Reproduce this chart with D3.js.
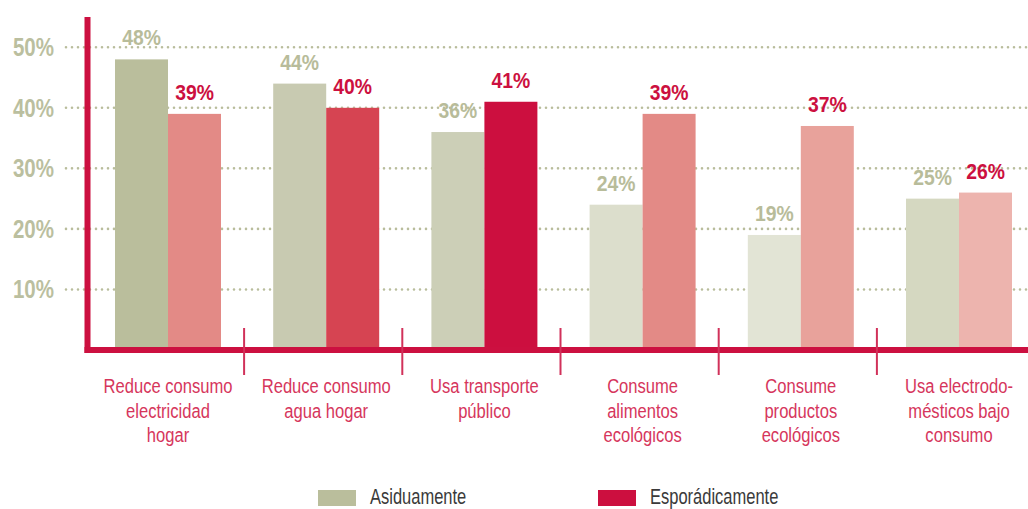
<!DOCTYPE html>
<html><head><meta charset="utf-8">
<script src="https://cdn.jsdelivr.net/npm/d3@7"></script>
<style>body{margin:0;background:#fff;} svg{display:block}</style>
</head><body>
<svg id="chart" width="1028" height="509"></svg>
<script>
// ---- data ----
const categories = [
  "Reduce consumo electricidad hogar",
  "Reduce consumo agua hogar",
  "Usa transporte público",
  "Consume alimentos ecológicos",
  "Consume productos ecológicos",
  "Usa electrodo- mésticos bajo consumo"
];
const categoryLines = [
  ["Reduce consumo", "electricidad", "hogar"],
  ["Reduce consumo", "agua hogar"],
  ["Usa transporte", "público"],
  ["Consume", "alimentos", "ecológicos"],
  ["Consume", "productos", "ecológicos"],
  ["Usa electrodo-", "mésticos bajo", "consumo"]
];
const asiduamente = [48, 44, 36, 24, 19, 25];
const esporadicamente = [39, 40, 41, 39, 37, 26];
const seriesNames = ["Asiduamente", "Esporádicamente"];
const yTicks = [10, 20, 30, 40, 50];

// ---- styles ----
const asidColors = ["#babe9c", "#c8cab1", "#cccfb7", "#dcdecc", "#e2e4d5", "#d5d8c1"];
const espColors  = ["#e38a86", "#d64452", "#cc0f3f", "#e38a86", "#e8a29b", "#edb4ae"];
const legendColors = ["#babe9c", "#cc0f3f"];
const crimson = "#cc1040";
const olive = "#bbbf9f";
const FONT = "'Liberation Sans', Arial, sans-serif";

const svg = d3.select("#chart");
const y = d3.scaleLinear().domain([0, 55]).range([350, 17]);
const x = d3.scaleBand().domain(categories).range([88.9, 1038.1]).paddingInner(0.33).paddingOuter(0.165);
const xs = d3.scaleBand().domain(seriesNames).range([0, x.bandwidth()]);

// condensed text helper: horizontal compression around anchor point
function ctext(sel, sx) {
  return sel.attr("x", 0).attr("y", 0)
    .attr("transform", d => `translate(${d.px},${d.py}) scale(${sx},1)`);
}

// gridlines
svg.append("g").selectAll("line").data(yTicks).join("line")
  .attr("x1", 66).attr("x2", 1028)
  .attr("y1", d => y(d)).attr("y2", d => y(d))
  .attr("stroke", "#b9bd9c").attr("stroke-width", 2.6)
  .attr("stroke-linecap", "round").attr("stroke-dasharray", "0,6");

// y tick labels
ctext(svg.append("g").selectAll("text")
  .data(yTicks.map(v => ({v, px: 54, py: y(v) + 9})))
  .join("text"), 0.79)
  .attr("text-anchor", "end")
  .attr("font-family", FONT).attr("font-weight", "bold").attr("font-size", 26)
  .attr("fill", olive)
  .text(d => d.v + "%");

// bars
const groups = svg.append("g").selectAll("g").data(categories).join("g")
  .attr("transform", d => `translate(${x(d)},0)`);
groups.append("rect")
  .attr("x", xs("Asiduamente")).attr("width", xs.bandwidth())
  .attr("y", (d, i) => y(asiduamente[i])).attr("height", (d, i) => y(0) - y(asiduamente[i]))
  .attr("fill", (d, i) => asidColors[i]);
groups.append("rect")
  .attr("x", xs("Esporádicamente")).attr("width", xs.bandwidth())
  .attr("y", (d, i) => y(esporadicamente[i])).attr("height", (d, i) => y(0) - y(esporadicamente[i]))
  .attr("fill", (d, i) => espColors[i]);

// value labels
const valLabels = [];
categories.forEach((c, i) => {
  valLabels.push({t: asiduamente[i] + "%", px: x(c) + xs("Asiduamente") + xs.bandwidth() / 2, py: y(asiduamente[i]) - 14, fill: "#b8bc9a"});
  valLabels.push({t: esporadicamente[i] + "%", px: x(c) + xs("Esporádicamente") + xs.bandwidth() / 2, py: y(esporadicamente[i]) - 14, fill: crimson});
});
ctext(svg.append("g").selectAll("text").data(valLabels).join("text"), 0.9)
  .attr("text-anchor", "middle")
  .attr("font-family", FONT).attr("font-weight", "bold").attr("font-size", 21.5)
  .attr("fill", d => d.fill)
  .text(d => d.t);

// axes lines
svg.append("line").attr("x1", 87.5).attr("x2", 87.5).attr("y1", 17).attr("y2", 353)
  .attr("stroke", crimson).attr("stroke-width", 6);
svg.append("line").attr("x1", 84.5).attr("x2", 1028).attr("y1", 350).attr("y2", 350)
  .attr("stroke", crimson).attr("stroke-width", 6);

// separators
const seps = categories.slice(1).map(c => x(c) - x.step() * x.paddingInner() / 2 - 3);
svg.append("g").selectAll("line").data(seps).join("line")
  .attr("x1", d => d).attr("x2", d => d).attr("y1", 328).attr("y2", 375)
  .attr("stroke", "#d1315a").attr("stroke-width", 2);

// category labels
const catLabels = [];
categories.forEach((c, i) => categoryLines[i].forEach((t, j) =>
  catLabels.push({t, px: x(c) + x.bandwidth() / 2, py: 393 + j * 24.5})));
ctext(svg.append("g").selectAll("text").data(catLabels).join("text"), 0.79)
  .attr("text-anchor", "middle")
  .attr("font-family", FONT).attr("font-size", 21)
  .attr("fill", "#d6365c")
  .text(d => d.t);

// legend
const legendX = [318, 598];
const lg = svg.append("g").selectAll("g").data(seriesNames).join("g")
  .attr("transform", (d, i) => `translate(${legendX[i]},0)`);
lg.append("rect").attr("x", 0).attr("y", 490).attr("width", 38).attr("height", 16)
  .attr("fill", (d, i) => legendColors[i]);
lg.append("text")
  .attr("transform", "translate(52,503.5) scale(0.75,1)")
  .attr("font-family", FONT).attr("font-size", 22).attr("fill", "#3a3a3a")
  .text(d => d);
</script>
</body></html>
